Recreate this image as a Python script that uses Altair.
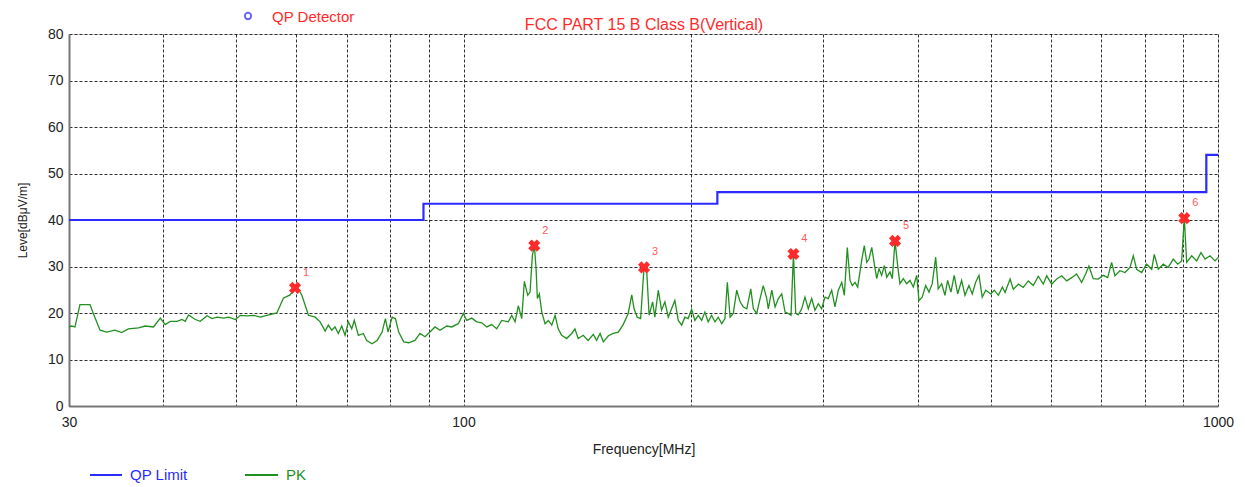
import altair as alt
import pandas as pd

# ---- PK trace (frequency in MHz, level in dBuV/m) ----
pk_freq = [
    30.0, 30.25, 30.55, 31.02, 31.99, 32.31, 32.98, 33.66, 34.52, 35.24,
    35.96, 37.09, 37.86, 38.83, 39.64, 40.24, 40.86, 41.71, 42.35, 42.78,
    43.21, 44.11, 44.78, 45.72, 46.42, 47.14, 48.10, 48.84, 49.85, 50.61,
    51.66, 52.71, 53.80, 54.86, 56.57, 57.71, 58.91, 59.82, 60.74,
    61.06, 62.30, 63.59, 64.56, 65.56, 66.19, 66.89, 67.56, 68.25, 68.96,
    69.66, 70.36, 71.10, 71.66, 72.55, 73.66, 74.43, 75.65, 76.82, 78.00,
    78.79, 79.44, 80.42, 81.23, 82.06, 83.32, 84.60, 86.23, 87.56, 88.91,
    90.28, 91.67, 93.08, 95.0, 96.46, 98.43, 99.94, 100.98, 102.54, 104.11,
    105.72, 107.34, 108.99, 110.67, 112.37, 114.66, 115.86, 117.04, 118.21, 119.45,
    120.40, 121.66, 122.52, 123.38, 124.14,
    124.79, 125.28, 126.05, 126.97, 128.26, 129.56, 130.91, 132.24, 133.52, 134.91,
    137.0, 139.1, 140.5, 141.9, 144.1, 146.3, 148.6, 150.1, 151.7, 153.2,
    155.6, 157.9, 160.4, 162.8, 165.3, 167.1, 168.3, 169.9, 171.7, 173.5,
    174.8, 176.2, 178.1, 179.3, 181.2, 183.0, 184.9, 186.8, 188.7, 190.6,
    192.6, 194.6, 196.5, 198.5, 200.6, 202.6, 204.7, 206.8, 208.9, 211.0,
    213.2, 215.4, 217.6, 219.9, 222.1, 223.7, 225.6, 227.8, 230.2, 232.6,
    234.9, 237.4, 240.3, 242.2, 244.7, 247.2, 249.6, 252.3,
    253.5, 256.2, 258.8, 261.4, 264.1, 266.8, 269.5, 271.7, 273.7, 275.6,
    277.8, 280.7, 283.5, 286.4, 289.4, 292.3, 295.3, 298.3, 301.4, 304.4,
    307.6, 310.7, 313.9, 317.2, 319.7, 322.6, 325.3, 327.6, 330.3, 333.0,
    335.3, 337.1, 339.8, 342.3, 344.7, 347.6, 350.3, 352.9, 355.4, 358.3,
    361.2, 363.9, 367.5, 370.1, 373.2, 376.2, 378.8, 382.7, 386.7, 390.6,
    394.6, 398.7, 401.5, 405.5, 409.8, 413.9, 418.1, 422.5, 425.8, 430.3,
    434.6, 438.2, 442.6, 447.1, 451.8, 457.3, 462.0, 467.6, 472.4, 477.3,
    482.2, 487.0, 492.2, 499.8, 505.3, 511.6, 517.9,
    522.1, 530.2, 535.5, 543.8, 552.0, 560.5, 569.1, 577.9, 586.7, 592.9,
    602.0, 611.3, 620.7, 630.2, 639.9, 649.5, 659.5, 667.7, 674.4, 683.3,
    693.8, 704.5, 714.1, 722.8, 730.2, 741.4, 752.8, 764.4, 772.2, 780.2,
    792.2, 804.4, 816.8, 823.3, 833.4, 846.2, 859.1, 872.4, 884.3, 895.1,
    902.2, 908.8, 922.9, 937.0, 949.4, 961.2, 975.9, 991.0, 1000.0,
]
pk_level = [
    17.0, 17.2, 17.0, 21.8, 21.8, 19.9, 16.3, 15.9, 16.3, 15.8,
    16.6, 16.8, 17.2, 17.0, 18.9, 17.5, 18.2, 18.2, 18.6, 18.2,
    19.6, 18.6, 18.2, 19.4, 18.8, 19.1, 18.9, 19.1, 18.6, 19.5,
    19.4, 19.5, 19.1, 19.5, 20.0, 23.2, 23.9, 25.4, 24.5,
    23.8, 19.5, 19.1, 18.1, 16.1, 17.4, 16.3, 17.0, 15.6, 17.2,
    15.2, 18.1, 16.6, 18.4, 15.2, 15.6, 14.1, 13.4, 14.1, 15.9,
    18.8, 15.9, 19.1, 18.8, 15.9, 13.8, 13.6, 14.1, 15.6, 14.9,
    15.9, 17.0, 16.3, 17.2, 17.0, 17.7, 19.9, 18.4, 18.9, 18.1,
    17.9, 17.0, 17.5, 16.6, 18.4, 18.1, 19.5, 18.1, 21.6, 18.8,
    26.8, 23.8, 24.5, 32.4, 34.5,
    29.5, 23.1, 24.1, 20.2, 17.7, 18.4, 17.4, 19.5, 16.6, 15.2,
    14.5, 15.6, 16.6, 14.5, 15.2, 14.1, 15.4, 14.1, 15.6, 13.8,
    15.1, 15.6, 15.9, 17.5, 19.9, 23.9, 20.9, 19.1, 18.8, 29.9,
    29.9, 19.5, 22.4, 19.1, 24.9, 20.6, 22.4, 19.1, 20.9, 22.7,
    18.4, 17.4, 19.1, 18.8, 20.8, 18.4, 19.5, 18.4, 20.2, 18.1,
    19.5, 18.1, 19.1, 17.7, 18.8, 26.6, 19.1, 19.9, 24.9, 22.4,
    21.3, 20.9, 25.2, 20.9, 19.9, 23.1, 25.9, 23.1,
    20.9, 24.9, 21.3, 23.1, 24.1, 20.2, 19.9, 19.5, 32.7, 19.9,
    19.6, 20.9, 23.4, 20.9, 23.1, 20.6, 22.0, 20.9, 23.4, 23.1,
    24.9, 21.3, 24.9, 26.6, 23.8, 34.1, 27.0, 25.9, 26.6, 25.6,
    28.8, 31.3, 34.5, 30.9, 31.6, 34.1, 30.6, 27.4, 29.5, 28.1,
    30.2, 27.7, 28.8, 27.4, 35.5, 30.2, 26.3, 27.4, 26.3, 27.0,
    25.6, 28.1, 22.7, 23.4, 25.9, 24.5, 26.3, 32.0, 25.2, 26.3,
    23.8, 27.0, 24.5, 28.1, 24.1, 27.0, 23.8, 25.9, 24.1, 26.6,
    28.1, 23.4, 24.9, 24.1, 24.9, 23.8, 25.6,
    24.4, 27.3, 25.1, 26.2, 25.5, 26.9, 25.9, 27.9, 26.2, 28.0,
    26.2, 27.3, 28.0, 26.9, 27.6, 28.4, 26.6, 28.4, 30.1, 27.4,
    27.3, 28.1, 27.6, 30.9, 28.0, 29.1, 28.7, 29.8, 32.3, 29.4,
    28.7, 30.5, 29.4, 32.6, 29.4, 30.5, 29.8, 31.6, 30.5, 31.2,
    40.5, 30.9, 32.3, 31.2, 33.0, 31.6, 32.3, 31.2, 31.9,
]

# ---- QP limit (step) ----
limit_freq = [30, 88.5, 217, 965, 1000]
limit_level = [40, 43.5, 46, 54, 54]

# ---- Marked peaks ----
mk_freq = [59.8, 124.1, 173.5, 273.7, 373.2, 902.2]
mk_level = [25.4, 34.5, 29.8, 32.7, 35.5, 40.4]
mk_label = ["1", "2", "3", "4", "5", "6"]

# ---- Axis ticks ----
y_ticks = [0, 10, 20, 30, 40, 50, 60, 70, 80]
x_grid = [30, 40, 50, 60, 70, 80, 90, 100, 200, 300, 400, 500, 600, 700, 800, 900, 1000]
x_labels = [30, 100, 1000]

title_text = "FCC PART 15 B Class B(Vertical)"
detector_text = "QP Detector"
x_title = "Frequency[MHz]"
y_title = "Leve[dB\u03bcV/m]"
legend_names = ["QP Limit", "PK"]

FONT = "Liberation Sans"
W, H = 1149, 372
BLUE = "#2b2bff"
GREEN = "#22901f"
RED = "#ff2a2a"

pk_df = pd.DataFrame({"f": pk_freq, "v": pk_level})
lim_df = pd.DataFrame({"f": limit_freq, "v": limit_level})
mk_df = pd.DataFrame({"f": mk_freq, "v": mk_level, "lab": mk_label})
one = pd.DataFrame({"a": [0]})

xs = alt.Scale(type="log", domain=[30, 1000], nice=False)
ys = alt.Scale(domain=[0, 80], nice=False)

lab_list = ",".join(str(v) for v in x_labels)
x_axis = alt.Axis(
    values=x_grid,
    labelExpr=f"indexof([{lab_list}], datum.value) >= 0 ? format(datum.value, 'd') : ''",
    title=x_title, ticks=False, grid=True, labelOverlap=False, labelFlush=False,
    labelFontSize=14, labelPadding=9, labelColor="#222", labelFont=FONT,
    titleFontSize=14, titleFontWeight="normal", titlePadding=13, titleColor="#222", titleFont=FONT,
    domainColor="#777", domainWidth=2,
    gridColor="#1a1a1a", gridDash=[3, 2], gridWidth=1, gridOpacity=0.9,
)
y_axis = alt.Axis(
    values=y_ticks, title=y_title, ticks=False, grid=True,
    labelFontSize=14, labelPadding=6, labelColor="#222", labelFont=FONT,
    titleFontSize=12, titleFontWeight="normal", titlePadding=18, titleColor="#222", titleFont=FONT,
    domainColor="#777", domainWidth=2,
    gridColor="#1a1a1a", gridDash=[3, 2], gridWidth=1, gridOpacity=0.9,
)

X = alt.X("f:Q", scale=xs, axis=x_axis)
Y = alt.Y("v:Q", scale=ys, axis=y_axis)

limit = alt.Chart(lim_df).mark_line(color=BLUE, strokeWidth=2.2, interpolate="step-after").encode(x=X, y=Y)
pk = alt.Chart(pk_df).mark_line(color=GREEN, strokeWidth=1.3).encode(x=X, y=Y)
marks = alt.Chart(mk_df).mark_point(shape="cross", angle=45, filled=True, color=RED, size=150, opacity=1).encode(x=X, y=Y)
mark_txt = alt.Chart(mk_df).mark_text(dx=11, dy=-15, fontSize=11, color="#ff5a5a", font=FONT).encode(x=X, y=Y, text="lab:N")

title = alt.Chart(one).mark_text(fontSize=16, color=RED, font=FONT, align="center", baseline="alphabetic").encode(
    x=alt.value(575), y=alt.value(-4), text=alt.value(title_text))
det_circle = alt.Chart(one).mark_point(shape="circle", filled=False, color=BLUE, size=40, strokeWidth=2).encode(
    x=alt.value(179), y=alt.value(-18))
det_text = alt.Chart(one).mark_text(fontSize=15, color=RED, font=FONT, align="left", baseline="alphabetic").encode(
    x=alt.value(203), y=alt.value(-12), text=alt.value(detector_text))

leg_rule1 = alt.Chart(one).mark_rule(color=BLUE, strokeWidth=2).encode(
    x=alt.value(21), x2=alt.value(53), y=alt.value(441))
leg_text1 = alt.Chart(one).mark_text(fontSize=15, color=BLUE, font=FONT, align="left", baseline="middle").encode(
    x=alt.value(61), y=alt.value(441), text=alt.value(legend_names[0]))
leg_rule2 = alt.Chart(one).mark_rule(color=GREEN, strokeWidth=2).encode(
    x=alt.value(176), x2=alt.value(209), y=alt.value(441))
leg_text2 = alt.Chart(one).mark_text(fontSize=15, color=GREEN, font=FONT, align="left", baseline="middle").encode(
    x=alt.value(217), y=alt.value(441), text=alt.value(legend_names[1]))

chart = alt.layer(
    limit, pk, marks, mark_txt, title, det_circle, det_text,
    leg_rule1, leg_text1, leg_rule2, leg_text2,
).properties(
    width=W, height=H,
    autosize=alt.AutoSizeParams(type="none"),
    padding={"left": 61, "top": 26, "right": 19, "bottom": 81},
).configure_view(
    stroke="#888", strokeWidth=1.5
).configure(background="white")

chart.save("out.html", embed_options={"renderer": "svg", "actions": False})
